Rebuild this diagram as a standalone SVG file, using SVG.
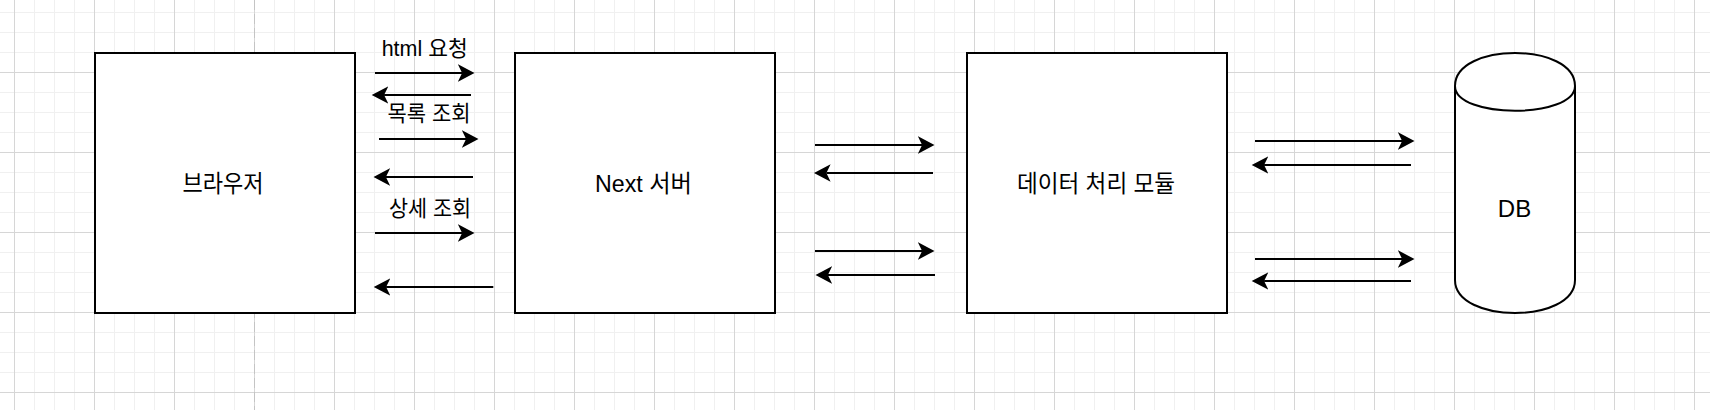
<svg xmlns="http://www.w3.org/2000/svg" width="1710" height="410" viewBox="0 0 1710 410">
  <style>
    .node { fill: #ffffff; stroke: #000000; stroke-width: 2; }
    .lbl { font-family: "Liberation Sans", "Noto Sans CJK KR", sans-serif; font-size: 24px; fill: #000000; text-anchor: middle; }
    .elbl { font-family: "Liberation Sans", "Noto Sans CJK KR", sans-serif; font-size: 22px; fill: #000000; text-anchor: middle; }
    .edge { fill: none; stroke: #000000; stroke-width: 2; marker-end: url(#arrow); }
  </style>
  <defs>
    <pattern id="grid" patternUnits="userSpaceOnUse" x="14" y="12" width="80" height="80">
      <rect x="20" y="0" width="1" height="80" fill="#f0f0f0"/>
      <rect x="40" y="0" width="1" height="80" fill="#f0f0f0"/>
      <rect x="60" y="0" width="1" height="80" fill="#f0f0f0"/>
      <rect x="0" y="0" width="80" height="1" fill="#f0f0f0"/>
      <rect x="0" y="20" width="80" height="1" fill="#f0f0f0"/>
      <rect x="0" y="40" width="80" height="1" fill="#f0f0f0"/>
      <rect x="0" y="0" width="1" height="80" fill="#d6d6d6"/>
      <rect x="0" y="60" width="80" height="1" fill="#d6d6d6"/>
    </pattern>
    <marker id="arrow" markerUnits="userSpaceOnUse" viewBox="0 0 17 18" markerWidth="17" markerHeight="18" refX="4.2" refY="9" orient="auto">
      <path d="M0,0.3 L16.6,9 L0,17.7 L4.2,9 Z" fill="#000000"/>
    </marker>
  </defs>

  <rect x="0" y="0" width="1710" height="410" fill="#ffffff"/>
  <rect x="0" y="0" width="1710" height="410" fill="url(#grid)"/>
  <line x1="254.5" y1="0" x2="254.5" y2="410" stroke="#c4c4c4" stroke-width="1" stroke-dasharray="10 4"/>

  <g id="connectors">
    <path class="edge" d="M375,73 H462.1"/>
    <path class="edge" d="M471,95 H384.1"/>
    <path class="edge" d="M379,139 H466.1"/>
    <path class="edge" d="M473,177 H385.9"/>
    <path class="edge" d="M375,233 H462.1"/>
    <path class="edge" d="M493.3,287 H386.1"/>

    <path class="edge" d="M815,145 H922.1"/>
    <path class="edge" d="M933,173 H826.4"/>
    <path class="edge" d="M815,251 H922.1"/>
    <path class="edge" d="M935,275 H827.9"/>

    <path class="edge" d="M1255,141 H1402.1"/>
    <path class="edge" d="M1411,165 H1264.1"/>
    <path class="edge" d="M1255,259 H1402.1"/>
    <path class="edge" d="M1411,281 H1264.1"/>

    <g id="edge-labels">
      <text class="elbl" x="424.7" y="56" textLength="86" lengthAdjust="spacingAndGlyphs">html 요청</text>
      <text class="elbl" x="429" y="120.5" textLength="83" lengthAdjust="spacingAndGlyphs">목록 조회</text>
      <text class="elbl" x="430" y="215.5" textLength="82" lengthAdjust="spacingAndGlyphs">상세 조회</text>
    </g>
  </g>

  <g id="browser">
    <rect class="node" x="95" y="53" width="260" height="260"/>
    <text class="lbl" x="223" y="191.5" textLength="81" lengthAdjust="spacingAndGlyphs">브라우저</text>
  </g>

  <g id="next-server">
    <rect class="node" x="515" y="53" width="260" height="260"/>
    <text class="lbl" x="643.5" y="191.5" textLength="97" lengthAdjust="spacingAndGlyphs">Next 서버</text>
  </g>

  <g id="data-module">
    <rect class="node" x="967" y="53" width="260" height="260"/>
    <text class="lbl" x="1096" y="191.5" textLength="158" lengthAdjust="spacingAndGlyphs">데이터 처리 모듈</text>
  </g>

  <g id="db">
    <path class="node" d="M1455,86 C1455,42 1575,42 1575,86 L1575,280 C1575,324 1455,324 1455,280 Z"/>
    <path d="M1455,86 C1455,119 1575,119 1575,86" fill="none" stroke="#000000" stroke-width="2"/>
    <text class="lbl" x="1514.5" y="216.5">DB</text>
  </g>
</svg>
